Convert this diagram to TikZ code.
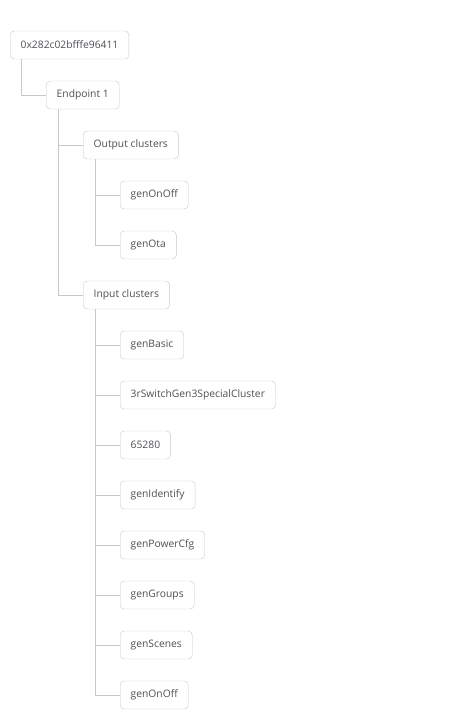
\documentclass[tikz,border=0pt]{standalone}
\usepackage{fontspec}
\setmainfont{Open Sans}
\usetikzlibrary{positioning}
\definecolor{boxline}{HTML}{C8C8C8}
\definecolor{boxtext}{HTML}{4F4F55}

\begin{document}
\begin{tikzpicture}[
        x=1pt,
        y=-1pt,
        tree node/.style={
            draw=boxline,
            rounded corners=4pt,
            fill=white,
            text=boxtext,
            anchor=west,
            inner xsep=10.5pt,
            minimum height=28pt,
            font=\fontsize{10.3}{12}\selectfont
        },
        link/.style={
            draw=boxline,
            line width=0.9pt
        }
    ]
    \useasboundingbox (0,0) rectangle (451,716);
    \node[tree node] (root) at (10,45) {0x282c02bfffe96411};
    \node[tree node] (ep) at (46,95) {Endpoint 1};
    \node[tree node] (out) at (83,145) {Output clusters};
    \node[tree node] (outonoff) at (120,195) {genOnOff};
    \node[tree node] (outota) at (120,245) {genOta};
    \node[tree node] (in) at (83,295) {Input clusters};
    \node[tree node] (inbasic) at (120,345) {genBasic};
    \node[tree node] (inspecial) at (120,395) {3rSwitchGen3SpecialCluster};
    \node[tree node] (inraw) at (120,445) {65280};
    \node[tree node] (inidentify) at (120,495) {genIdentify};
    \node[tree node] (inpower) at (120,545) {genPowerCfg};
    \node[tree node] (ingroups) at (120,595) {genGroups};
    \node[tree node] (inscenes) at (120,645) {genScenes};
    \node[tree node] (inonoff) at (120,695) {genOnOff};

    % tree links
    \draw[link] (root.south west) ++(11,0) |- (ep.west);
    \draw[link] (ep.south west) ++(12,0) |- (out.west);
    \draw[link] (ep.south west) ++(12,0) |- (in.west);
    \draw[link] (out.south west) ++(12,0) |- (outonoff.west);
    \draw[link] (out.south west) ++(12,0) |- (outota.west);
    \foreach \leaf in {inbasic,inspecial,inraw,inidentify,inpower,ingroups,inscenes,inonoff}
        \draw[link] (in.south west) ++(12,0) |- (\leaf.west);
\end{tikzpicture}
\end{document}
